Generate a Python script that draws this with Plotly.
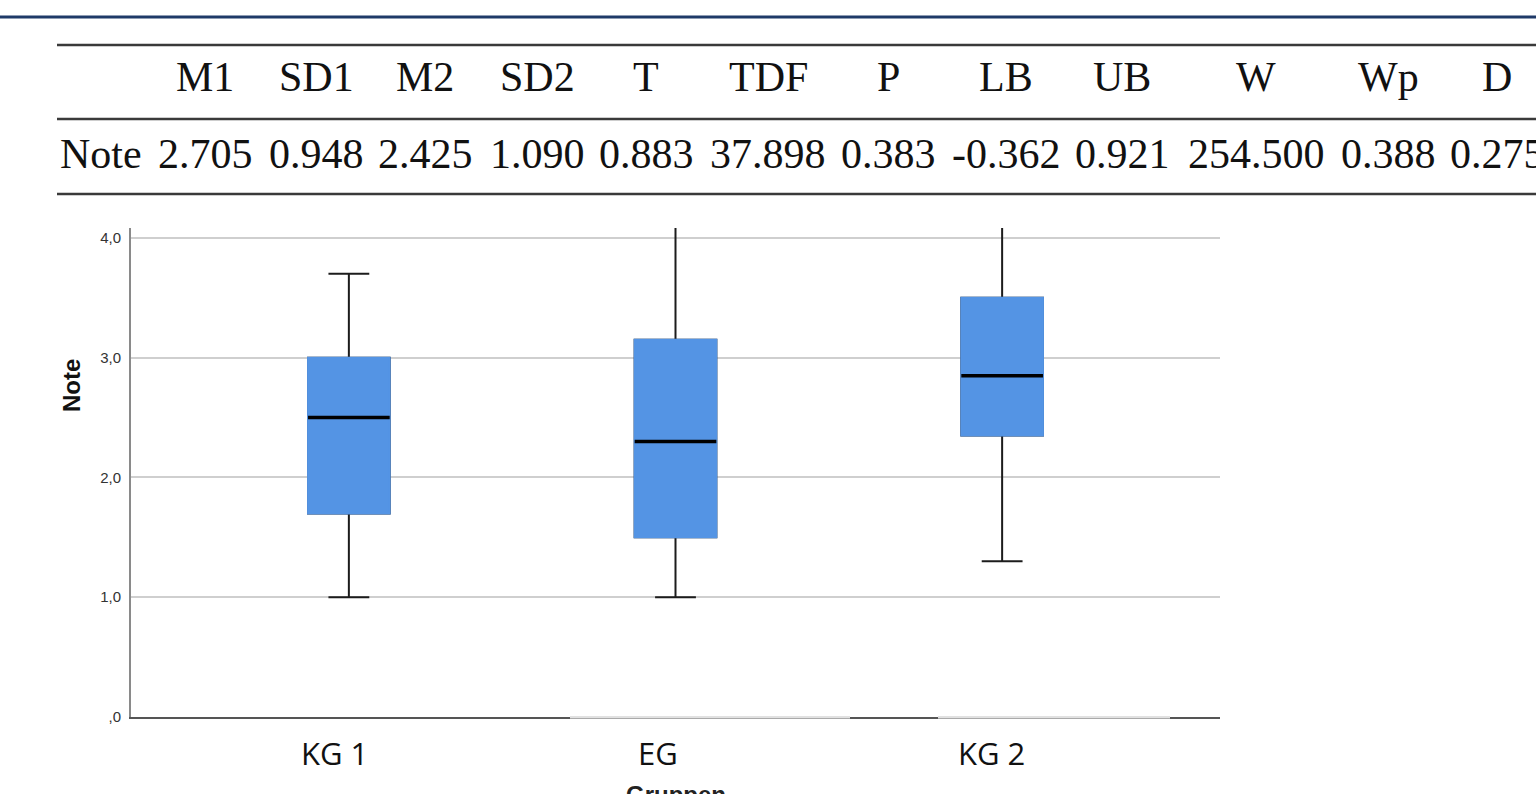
import plotly.graph_objects as go

# ---------------- data ----------------
table_headers = ["M1", "SD1", "M2", "SD2", "T", "TDF", "P", "LB", "UB", "W", "Wp", "D"]
table_row_label = "Note"
table_values = ["2.705", "0.948", "2.425", "1.090", "0.883", "37.898", "0.383",
                "-0.362", "0.921", "254.500", "0.388", "0.275"]

groups = ["KG 1", "EG", "KG 2"]
lower_whisker = [1.0, 1.0, 1.3]
q1_vals = [1.7, 1.5, 2.35]
median_vals = [2.5, 2.3, 2.85]
q3_vals = [3.0, 3.15, 3.5]
upper_whisker = [3.7, 5.0, 5.0]

y_tickvals = [0, 1, 2, 3, 4]
y_ticktext = [",0", "1,0", "2,0", "3,0", "4,0"]
y_title = "Note"
x_title = "Gruppen"

# ---------------- layout helpers ----------------
W, H = 1536, 794
H_EFF = 786  # measured effective paper height in the screenshot
def px(x):
    return x / W
def py(y):
    return 1 - y / H_EFF

BLUE = "#5494E4"
DARK = "#1c1c1c"
xpos = list(range(len(groups)))

fig = go.Figure()

# layer A: whiskers + caps (black)
fig.add_trace(go.Box(
    x=xpos, q1=q1_vals, median=median_vals, q3=q3_vals,
    lowerfence=lower_whisker, upperfence=upper_whisker,
    fillcolor=BLUE, line=dict(color=DARK, width=2),
    width=0.25, whiskerwidth=0.5, boxpoints=False, hoverinfo="skip",
    showlegend=False))
# layer B: blue box body without outline
fig.add_trace(go.Box(
    x=xpos, q1=q1_vals, median=q1_vals, q3=q3_vals,
    lowerfence=q1_vals, upperfence=q3_vals,
    fillcolor=BLUE, line=dict(color=BLUE, width=2),
    width=0.25, whiskerwidth=0, boxpoints=False, hoverinfo="skip",
    showlegend=False))
# layer C: median line (black)
fig.add_trace(go.Box(
    x=xpos, q1=median_vals, median=median_vals, q3=median_vals,
    lowerfence=median_vals, upperfence=median_vals,
    fillcolor="rgba(0,0,0,0)", line=dict(color="#000000", width=3.5),
    width=0.25, whiskerwidth=0, boxpoints=False, hoverinfo="skip",
    showlegend=False))

shapes = []
# top navy rule
shapes.append(dict(type="line", xref="paper", yref="paper", x0=0, x1=1,
                   y0=py(17), y1=py(17), line=dict(color="#1F3A68", width=3)))
# table rules
for yy in (45, 119, 194):
    shapes.append(dict(type="line", xref="paper", yref="paper", x0=px(57), x1=1,
                       y0=py(yy), y1=py(yy), line=dict(color="#3a3a3a", width=2.5)))
# lighter pasted-over parts of the x axis line
for xa, xb in ((570, 850), (938, 1170)):
    shapes.append(dict(type="line", xref="paper", yref="paper", x0=px(xa), x1=px(xb),
                       y0=py(717), y1=py(717), line=dict(color="white", width=3)))
    shapes.append(dict(type="line", xref="paper", yref="paper", x0=px(xa), x1=px(xb),
                       y0=py(717), y1=py(717), line=dict(color="#c4c4c4", width=1.2)))

annotations = []
col_centers = [205, 316, 425, 537, 646, 768, 888, 1006, 1122, 1256, 1388, 1497]
serif = dict(family="Liberation Serif, Times New Roman, serif", size=42, color="#111111")
for h, cx in zip(table_headers, col_centers):
    annotations.append(dict(text=h, x=px(cx), y=py(77), xref="paper", yref="paper",
                            xanchor="center", yanchor="middle", showarrow=False, font=serif))
annotations.append(dict(text=table_row_label, x=px(58), y=py(154), xref="paper", yref="paper",
                        xanchor="left", yanchor="middle", showarrow=False, font=serif))
for v, cx in zip(table_values, col_centers):
    annotations.append(dict(text=v, x=px(cx), y=py(154), xref="paper", yref="paper",
                            xanchor="center", yanchor="middle", showarrow=False, font=serif))

# x category labels (pasted-in style)
label_shift = [-14, -18, -11]
for g, xp, sh in zip(groups, xpos, label_shift):
    annotations.append(dict(text=g, x=xp, xref="x", y=py(753), yref="paper",
                            xshift=sh, xanchor="center", yanchor="middle", showarrow=False,
                            font=dict(family="Open Sans, Noto Sans, sans-serif", size=31, color="#111111")))
# y axis title
annotations.append(dict(text="<b>%s</b>" % y_title, x=px(71), y=py(386), xref="paper", yref="paper",
                        textangle=-90, xanchor="center", yanchor="middle", showarrow=False,
                        font=dict(family="Liberation Sans, Arial, sans-serif", size=24, color="#111111")))
# x axis title (cut off at page bottom)
annotations.append(dict(text="<b>%s</b>" % x_title, x=px(676), y=py(779), xref="paper", yref="paper",
                        xanchor="center", yanchor="top", showarrow=False,
                        font=dict(family="Liberation Sans, Arial, sans-serif", size=24, color="#222222")))

fig.update_layout(
    width=W, height=H, autosize=False,
    margin=dict(l=0, r=0, t=0, b=0, pad=0),
    paper_bgcolor="white", plot_bgcolor="white",
    boxmode="overlay",
    xaxis=dict(domain=[px(131), px(1220)], range=[-0.667, 2.667],
               showgrid=False, zeroline=False, showticklabels=False, ticks="",
               showline=True, linecolor="#555555", linewidth=2, fixedrange=True),
    yaxis=dict(domain=[py(717), py(228)], range=[0, 4.083],
               tickvals=y_tickvals, ticktext=y_ticktext, ticks="",
               ticklabelstandoff=5,
               tickfont=dict(family="Liberation Sans, Arial, sans-serif", size=15, color="#333333"),
               showgrid=True, gridcolor="#CFCFCF", gridwidth=2, zeroline=False,
               showline=True, linecolor="#8a8a8a", linewidth=2, fixedrange=True),
    shapes=shapes,
    annotations=annotations,
)

fig.write_html("out.html", config={"responsive": False, "displayModeBar": False})
